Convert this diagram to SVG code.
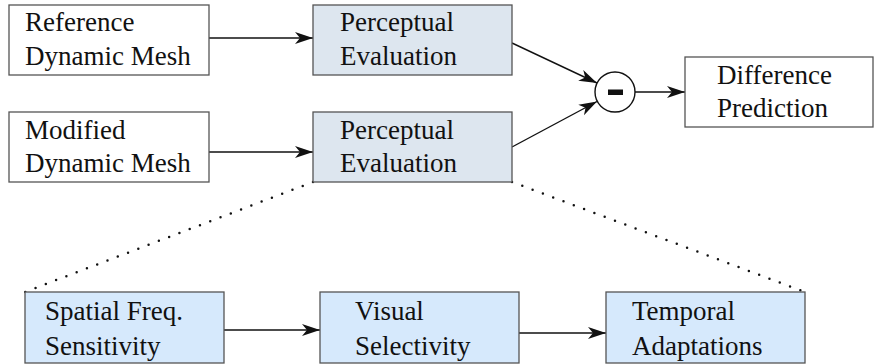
<svg xmlns="http://www.w3.org/2000/svg" width="878" height="364" viewBox="0 0 878 364">
  <defs>
    <marker id="head" markerUnits="userSpaceOnUse" markerWidth="20" markerHeight="14" refX="18" refY="7" orient="auto">
      <path d="M0,1 L18,7 L0,13 L5,7 Z" fill="#111"/>
    </marker>
  </defs>

  <g id="connectors" stroke="#111" stroke-width="1.4" fill="none">
    <line x1="209" y1="38" x2="313" y2="38" marker-end="url(#head)"/>
    <line x1="209" y1="152" x2="313" y2="152" marker-end="url(#head)"/>
    <line x1="512" y1="43" x2="597" y2="83" marker-end="url(#head)"/>
    <line x1="512" y1="147" x2="597" y2="101.5" marker-end="url(#head)"/>
    <line x1="635" y1="92" x2="685" y2="92" marker-end="url(#head)"/>
    <line x1="224" y1="330" x2="320" y2="330" marker-end="url(#head)"/>
    <line x1="519" y1="333" x2="606" y2="333" marker-end="url(#head)"/>
    <line x1="313" y1="182" x2="25" y2="292" stroke-width="2.5" stroke-linecap="round" stroke-dasharray="0 11"/>
    <line x1="512" y1="182" x2="805" y2="292" stroke-width="2.5" stroke-linecap="round" stroke-dasharray="0 11"/>
  </g>

  <g id="ref-mesh">
    <rect x="9" y="5" width="200" height="70" fill="#fff" stroke="#555" stroke-width="1.3"/>
    <text x="25" y="31" font-family="Liberation Serif" font-size="27" fill="#111">Reference</text>
    <text x="25" y="65" font-family="Liberation Serif" font-size="27" fill="#111">Dynamic Mesh</text>
  </g>
  <g id="mod-mesh">
    <rect x="9" y="112" width="200" height="70" fill="#fff" stroke="#555" stroke-width="1.3"/>
    <text x="25" y="139" font-family="Liberation Serif" font-size="27" fill="#111">Modified</text>
    <text x="25" y="172" font-family="Liberation Serif" font-size="27" fill="#111">Dynamic Mesh</text>
  </g>
  <g id="eval-1">
    <rect x="313" y="5" width="199" height="70" fill="#dde6ef" stroke="#555" stroke-width="1.3"/>
    <text x="340" y="31" font-family="Liberation Serif" font-size="27" fill="#111">Perceptual</text>
    <text x="340" y="65" font-family="Liberation Serif" font-size="27" fill="#111">Evaluation</text>
  </g>
  <g id="eval-2">
    <rect x="313" y="112" width="199" height="70" fill="#dde6ef" stroke="#555" stroke-width="1.3"/>
    <text x="340" y="139" font-family="Liberation Serif" font-size="27" fill="#111">Perceptual</text>
    <text x="340" y="172" font-family="Liberation Serif" font-size="27" fill="#111">Evaluation</text>
  </g>
  <g id="minus">
    <circle cx="615" cy="92" r="20" fill="#fff" stroke="#111" stroke-width="1.4"/>
    <rect x="608" y="89.5" width="15" height="5.5" fill="#111"/>
  </g>
  <g id="difference">
    <rect x="685" y="57" width="188" height="70" fill="#fff" stroke="#555" stroke-width="1.3"/>
    <text x="717" y="84" font-family="Liberation Serif" font-size="27" fill="#111">Difference</text>
    <text x="717" y="117" font-family="Liberation Serif" font-size="27" fill="#111">Prediction</text>
  </g>
  <g id="spatial">
    <rect x="25" y="292" width="199" height="71" fill="#d6e9fc" stroke="#555" stroke-width="1.3"/>
    <text x="45" y="320" font-family="Liberation Serif" font-size="27" fill="#111">Spatial Freq.</text>
    <text x="45" y="355" font-family="Liberation Serif" font-size="27" fill="#111">Sensitivity</text>
  </g>
  <g id="visual">
    <rect x="320" y="292" width="199" height="71" fill="#d6e9fc" stroke="#555" stroke-width="1.3"/>
    <text x="355" y="320" font-family="Liberation Serif" font-size="27" fill="#111">Visual</text>
    <text x="355" y="355" font-family="Liberation Serif" font-size="27" fill="#111">Selectivity</text>
  </g>
  <g id="temporal">
    <rect x="606" y="292" width="199" height="71" fill="#d6e9fc" stroke="#555" stroke-width="1.3"/>
    <text x="632" y="320" font-family="Liberation Serif" font-size="27" fill="#111">Temporal</text>
    <text x="632" y="355" font-family="Liberation Serif" font-size="27" fill="#111">Adaptations</text>
  </g>
</svg>
